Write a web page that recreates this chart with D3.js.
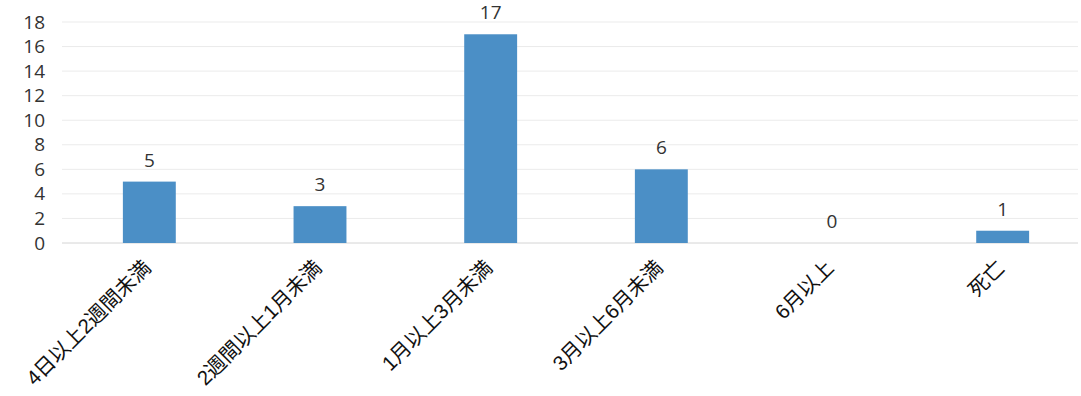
<!DOCTYPE html>
<html><head><meta charset="utf-8">
<script src="https://cdn.jsdelivr.net/npm/d3@7"></script>
<style>body{margin:0;background:#fff}svg{display:block}</style>
</head><body>
<script>
const categories = ["4日以上2週間未満","2週間以上1月未満","1月以上3月未満","3月以上6月未満","6月以上","死亡"];
const values = [5,3,17,6,0,1];
const yTicks = [0,2,4,6,8,10,12,14,16,18];

const W=1081,H=396;
const svg=d3.select("body").append("svg").attr("width",W).attr("height",H);
const x=d3.scaleBand().domain(categories).range([64,1088]).paddingInner(0.69).paddingOuter(0.345);
const y=d3.scaleLinear().domain([0,18]).range([243,22]);
const numFont="'Open Sans','Noto Sans',sans-serif";

const g=svg.append("g");
g.selectAll("line.grid").data(yTicks).enter().append("line")
 .attr("x1",62).attr("x2",1078).attr("y1",d=>y(d)).attr("y2",d=>y(d))
 .attr("stroke",d=>d===0?"#d4d4d4":"#ebebeb").attr("stroke-width",1);

const yAxis=d3.axisLeft(y).tickValues(yTicks).tickSize(0).tickPadding(0);
svg.append("g").attr("transform","translate(45,0)").call(yAxis)
 .call(a=>a.select(".domain").remove())
 .selectAll("text").attr("font-family",numFont).attr("font-size",19).attr("fill","#333");

g.selectAll("rect").data(values).enter().append("rect")
 .attr("x",(d,i)=>x(categories[i])).attr("width",x.bandwidth())
 .attr("y",d=>y(d)).attr("height",d=>y(0)-y(d)).attr("fill","#4b8fc6");

g.selectAll("text.val").data(values).enter().append("text")
 .attr("x",(d,i)=>x(categories[i])+x.bandwidth()/2).attr("y",d=>y(d)-15)
 .attr("text-anchor","middle").attr("font-family",numFont)
 .attr("font-size",19).attr("fill","#333").text(d=>d);

const xAxis=d3.axisBottom(x).tickSize(0).tickPadding(0);
svg.append("g").attr("transform","translate(0,243)").call(xAxis)
 .call(a=>a.select(".domain").remove())
 .selectAll("text").attr("font-family","'Liberation Sans','Noto Sans CJK JP',sans-serif").attr("font-size",20.5).attr("fill","#111")
 .attr("text-anchor","end").attr("dy",0).attr("dx",0)
 .attr("transform","translate(3,26) rotate(-45)");
</script>
</body></html>
